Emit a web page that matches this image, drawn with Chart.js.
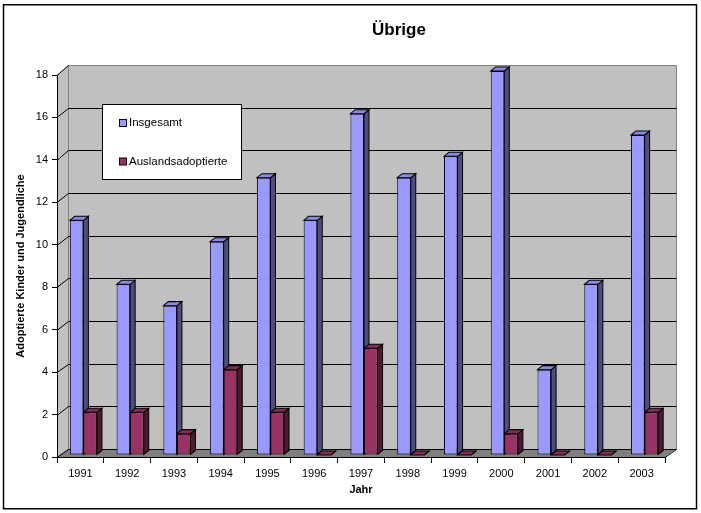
<!DOCTYPE html>
<html>
<head>
<meta charset="utf-8">
<script src="https://cdn.jsdelivr.net/npm/chart.js@4.4.1/dist/chart.umd.min.js"></script>
<style>
  html, body { margin: 0; padding: 0; background: #fff; }
  canvas { display: block; }
</style>
</head>
<body>
<canvas id="myChart" width="701" height="513"></canvas>
<script>
const jahre = ["1991", "1992", "1993", "1994", "1995", "1996", "1997", "1998", "1999", "2000", "2001", "2002", "2003"];
const insgesamt = [11, 8, 7, 10, 13, 11, 16, 13, 14, 18, 4, 8, 15];
const auslandsadoptierte = [2, 2, 1, 4, 2, 0, 5, 0, 0, 1, 0, 0, 2];
const serien = ["Insgesamt", "Auslandsadoptierte"];
const titel = "Übrige";
const achseX = "Jahr";
const achseY = "Adoptierte Kinder und Jugendliche";

const FONT = "'Liberation Sans', Arial, sans-serif";
const WALL_DX = 11; // depth of floor and side wall
const BAR_DX = 5;   // depth of a single column
const BAR_DY = 4;

const faces = [
  { front: "#9999ff", top: "#8a8ae6", side: "#4d4d80" },
  { front: "#993366", top: "#852d58", side: "#4d1933" },
];

// back wall sits a bit higher than the front axis
const backY = (a, py) => py - 8 - 2 * (a.bottom - py) / (a.bottom - a.top);
const px = (v) => Math.round(v) + 0.5;

const walls = {
  id: "walls",
  beforeDraw(chart) {
    const { ctx, chartArea: a, scales: { y } } = chart;
    const bl = a.left + WALL_DX;
    const br = a.right + WALL_DX;
    const bt = backY(a, a.top);
    const bb = backY(a, a.bottom);

    ctx.save();
    ctx.fillStyle = "#fff";
    ctx.fillRect(0, 0, chart.width, chart.height);

    // side wall + back wall
    ctx.fillStyle = "#c0c0c0";
    ctx.beginPath();
    ctx.moveTo(a.left, a.top);
    ctx.lineTo(bl, bt);
    ctx.lineTo(br, bt);
    ctx.lineTo(br, bb);
    ctx.lineTo(a.left, a.bottom);
    ctx.closePath();
    ctx.fill();

    // floor
    ctx.fillStyle = "#808080";
    ctx.beginPath();
    ctx.moveTo(a.left, a.bottom);
    ctx.lineTo(bl, bb);
    ctx.lineTo(br, bb);
    ctx.lineTo(a.right, a.bottom);
    ctx.closePath();
    ctx.fill();

    ctx.lineWidth = 1;
    ctx.strokeStyle = "#808080";
    ctx.beginPath();
    ctx.moveTo(px(bl), px(bb));
    ctx.lineTo(px(bl), px(bt));
    ctx.lineTo(px(br), px(bt));
    ctx.lineTo(px(br), px(bb));
    ctx.stroke();

    // gridlines on the back wall with their diagonals on the side wall
    ctx.strokeStyle = "#000";
    ctx.beginPath();
    y.ticks.forEach((t) => {
      const py = y.getPixelForValue(t.value);
      const pb = backY(a, py);
      ctx.moveTo(a.left, px(py));
      ctx.lineTo(px(bl), px(pb));
      if (t.value < y.max) ctx.lineTo(px(br), px(pb));
    });
    ctx.moveTo(a.right, px(a.bottom));
    ctx.lineTo(px(br), px(bb));
    ctx.stroke();
    ctx.restore();
  },
};

const columns3d = {
  id: "columns3d",
  beforeDatasetsDraw(chart) {
    const { ctx } = chart;
    ctx.save();
    ctx.translate(3, -4.4);
    ctx.scale(1, 1.0052);
    ctx.lineWidth = 1;
    ctx.strokeStyle = "#000";
    chart.data.datasets.forEach((ds, i) => {
      const f = faces[i];
      chart.getDatasetMeta(i).data.forEach((bar) => {
        const { x, y, base, width } = bar.getProps(["x", "y", "base", "width"], true);
        const x0 = x - width / 2;
        const x1 = x + width / 2;

        ctx.fillStyle = f.side;
        ctx.beginPath();
        ctx.moveTo(x1, y);
        ctx.lineTo(x1 + BAR_DX, y - BAR_DY);
        ctx.lineTo(x1 + BAR_DX, base - BAR_DY);
        ctx.lineTo(x1, base);
        ctx.closePath();
        ctx.fill();
        ctx.stroke();

        ctx.fillStyle = f.top;
        ctx.beginPath();
        ctx.moveTo(x0, y);
        ctx.lineTo(x0 + BAR_DX, y - BAR_DY);
        ctx.lineTo(x1 + BAR_DX, y - BAR_DY);
        ctx.lineTo(x1, y);
        ctx.closePath();
        ctx.fill();
        ctx.stroke();
      });
    });
  },
  afterDatasetsDraw(chart) {
    chart.ctx.restore();
  },
};

const decor = {
  id: "decor",
  afterDraw(chart) {
    const { ctx } = chart;
    ctx.save();

    // legend box
    ctx.fillStyle = "#fff";
    ctx.strokeStyle = "#000";
    ctx.lineWidth = 1;
    ctx.fillRect(102.5, 104.5, 139, 75);
    ctx.strokeRect(102.5, 104.5, 139, 75);
    ctx.font = "11.5px " + FONT;
    ctx.textBaseline = "middle";
    chart.data.datasets.forEach((ds, i) => {
      const cy = 123 + i * 38.5;
      ctx.fillStyle = ds.backgroundColor;
      ctx.fillRect(119.5, cy - 3.5, 7, 7);
      ctx.strokeRect(119.5, cy - 3.5, 7, 7);
      ctx.fillStyle = "#000";
      ctx.fillText(ds.label, 129, cy);
    });

    // title
    ctx.font = "bold 17px " + FONT;
    ctx.textAlign = "center";
    ctx.fillText(titel, 399, 30);

    // outer frame
    ctx.lineWidth = 1.5;
    ctx.strokeRect(3.5, 4.75, 693, 504);
    ctx.restore();
  },
};

const ctx = document.getElementById("myChart").getContext("2d");

new Chart(ctx, {
  type: "bar",
  data: {
    labels: jahre,
    datasets: [
      { label: serien[0], data: insgesamt, backgroundColor: faces[0].front },
      { label: serien[1], data: auslandsadoptierte, backgroundColor: faces[1].front },
    ],
  },
  options: {
    responsive: false,
    animation: false,
    layout: { padding: { top: 75, right: 36, left: 0, bottom: 0 } },
    datasets: {
      bar: {
        borderColor: "#000",
        borderWidth: 1,
        borderSkipped: false,
        categoryPercentage: 0.58,
        barPercentage: 1,
      },
    },
    plugins: {
      legend: { display: false },
      tooltip: { enabled: false },
    },
    scales: {
      x: {
        afterFit: (s) => { s.height = 56; },
        grid: { drawOnChartArea: false, tickLength: 6, color: "#000", offset: true },
        border: { color: "#000" },
        ticks: { color: "#000", font: { family: FONT, size: 11 }, padding: 4, maxRotation: 0 },
        title: {
          display: true,
          text: achseX,
          color: "#000",
          font: { family: FONT, size: 11, weight: "bold" },
          padding: { top: 0, bottom: 16 },
        },
      },
      y: {
        min: 0,
        max: 18,
        afterFit: (s) => { s.width = 57; },
        grid: { drawOnChartArea: false, tickLength: 5, color: "#000" },
        border: { color: "#000" },
        ticks: { stepSize: 2, color: "#000", font: { family: FONT, size: 11 }, padding: 4 },
        title: {
          display: true,
          text: achseY,
          color: "#000",
          font: { family: FONT, size: 11, weight: "bold" },
          padding: { top: 14, bottom: 0 },
        },
      },
    },
  },
  plugins: [walls, columns3d, decor],
});
</script>
</body>
</html>
